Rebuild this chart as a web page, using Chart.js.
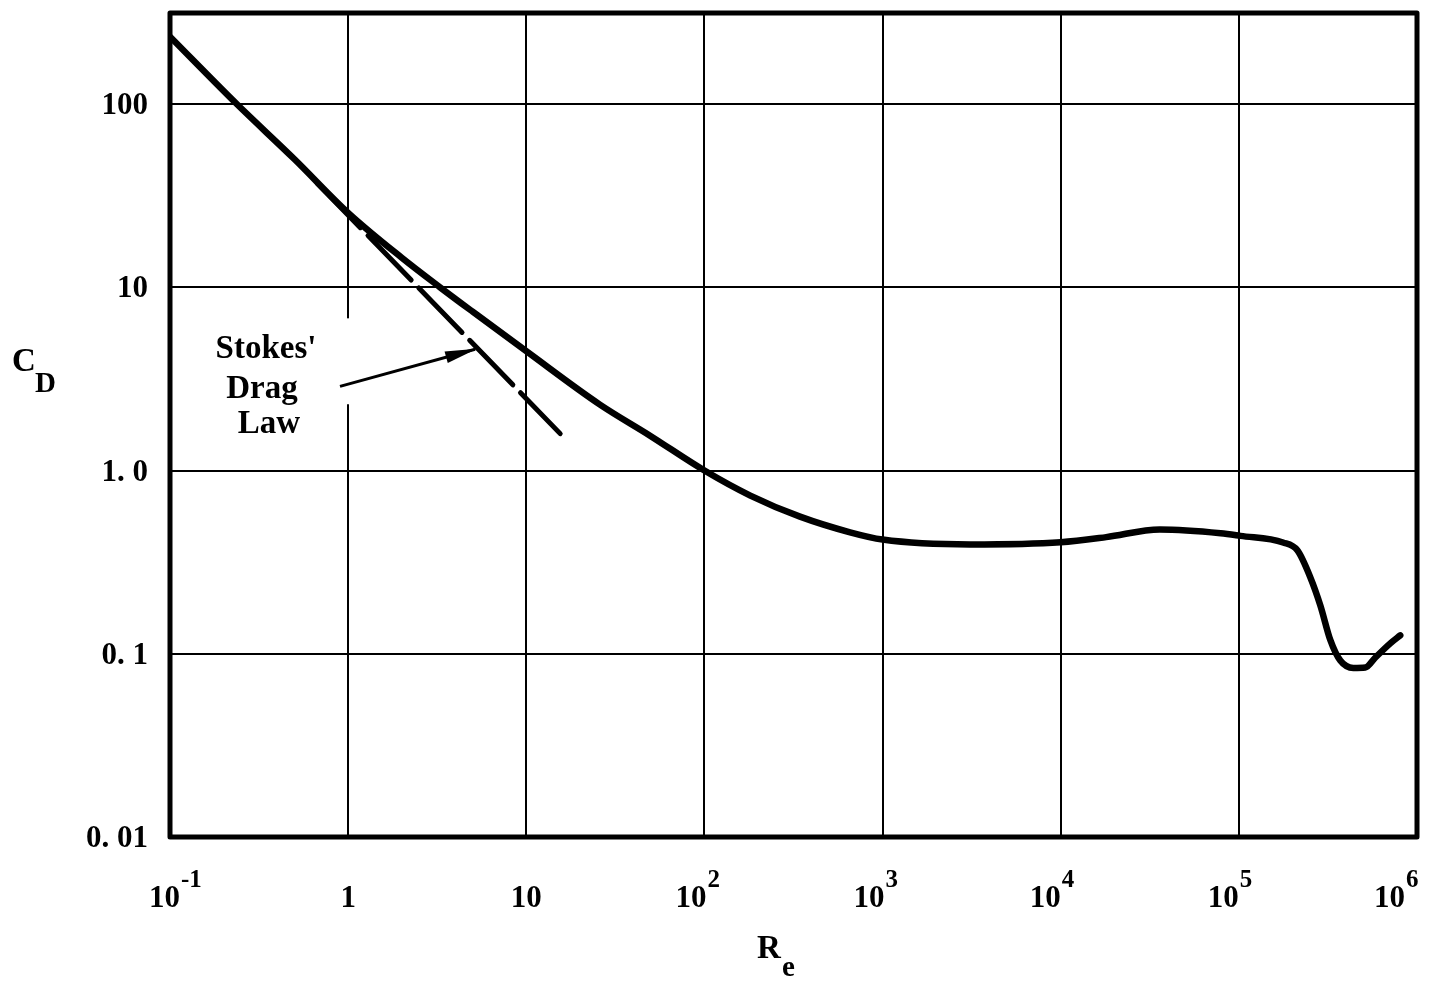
<!DOCTYPE html>
<html>
<head>
<meta charset="utf-8">
<script src="https://cdn.jsdelivr.net/npm/chart.js@4/dist/chart.umd.min.js"></script>
<style>
  html, body { margin: 0; padding: 0; background: #fff; }
  canvas { display: block; }
</style>
</head>
<body>
<canvas id="canvas" width="1432" height="983"></canvas>
<script>
// drag curve (Re, CD)
var reValues = [0.1, 0.237, 0.5, 1, 2, 3.28, 5, 10, 25.9, 49.5, 100, 181, 344, 657, 1000,
    3100, 10000, 18000, 36000, 79000, 102000, 177000, 213000, 252000, 287000, 326000,
    371000, 439000, 513000, 584000, 708000, 805000];
var cdValues = [233, 100, 50, 25.5, 14.5, 10, 7.36, 4.48, 2.29, 1.55, 1.0, 0.73, 0.56, 0.46, 0.42,
    0.395, 0.406, 0.433, 0.477, 0.455, 0.44, 0.405, 0.367, 0.261, 0.183, 0.119,
    0.0918, 0.0836, 0.0841, 0.0954, 0.114, 0.126];

// Stokes' drag law (dashed)
var stokesRe = [0.67, 15.5];
var stokesCd = [37, 1.59];

// arrow from label to dashed line
var arrowRe = [0.9, 5.16];
var arrowCd = [2.88, 4.59];

var xTickValues = [0.1, 1, 10, 100, 1e3, 1e4, 1e5, 1e6];
var xTickBase = ['10', '1', '10', '10', '10', '10', '10', '10'];
var xTickExp = ['-1', '', '', '2', '3', '4', '5', '6'];
var yTickValues = [0.01, 0.1, 1, 10, 100];
var yTickLabels = ['0. 01', '0. 1', '1. 0', '10', '100'];

var FONT = "'Liberation Serif', 'DejaVu Serif', serif";

function pts(xs, ys) {
    return xs.map(function(x, i) { return {x: x, y: ys[i]}; });
}

var paperPlugin = {
    id: 'paper',
    beforeDraw: function(chart) {
        var c = chart.ctx;
        c.save();
        c.fillStyle = '#fff';
        c.fillRect(0, 0, chart.width, chart.height);
        c.restore();
    },
    beforeDatasetsDraw: function(chart) {
        // small break in the Re=1 grid line behind the arrow tail
        var c = chart.ctx, xs = chart.scales.x, ys = chart.scales.y;
        var gx = xs.getPixelForValue(1);
        c.save();
        c.fillStyle = '#fff';
        c.fillRect(gx - 3, ys.getPixelForValue(6.77), 6, ys.getPixelForValue(2.3) - ys.getPixelForValue(6.77));
        c.restore();
    },
    afterDraw: function(chart) {
        var c = chart.ctx, a = chart.chartArea, xs = chart.scales.x, ys = chart.scales.y;
        c.save();

        // heavy frame
        c.strokeStyle = '#000';
        c.lineWidth = 5;
        c.lineJoin = 'round';
        c.strokeRect(a.left, a.top, a.right - a.left, a.bottom - a.top);

        // arrow head
        var x0 = xs.getPixelForValue(arrowRe[0]), y0 = ys.getPixelForValue(arrowCd[0]);
        var x1 = xs.getPixelForValue(arrowRe[1]), y1 = ys.getPixelForValue(arrowCd[1]);
        var ang = Math.atan2(y1 - y0, x1 - x0);
        c.translate(x1, y1);
        c.rotate(ang);
        c.fillStyle = '#000';
        c.beginPath();
        c.moveTo(2, 0);
        c.lineTo(-30, -6);
        c.lineTo(-30, 6);
        c.closePath();
        c.fill();
        c.setTransform(1, 0, 0, 1, 0, 0);

        c.fillStyle = '#000';

        // y tick labels
        c.font = 'bold 31px ' + FONT;
        c.textAlign = 'right';
        c.textBaseline = 'middle';
        yTickValues.forEach(function(v, i) {
            c.fillText(yTickLabels[i], a.left - 22, ys.getPixelForValue(v) + 2);
        });
        c.textBaseline = 'alphabetic';

        // x tick labels with exponents
        var shift = [10, 0, 0, 2, 2, 0, 0, -12];
        xTickValues.forEach(function(v, i) {
            var gx = xs.getPixelForValue(v) + shift[i];
            c.font = 'bold 31px ' + FONT;
            if (xTickExp[i] === '') {
                c.textAlign = 'center';
                c.fillText(xTickBase[i], gx, 907);
            } else {
                c.textAlign = 'right';
                c.fillText(xTickBase[i], gx, 907);
                c.textAlign = 'left';
                c.font = 'bold 25px ' + FONT;
                c.fillText(xTickExp[i], gx + 1, 887);
            }
        });

        // axis titles
        c.textAlign = 'left';
        c.font = 'bold 33px ' + FONT;
        c.fillText('R', 757, 958);
        c.fillText('C', 12, 371);
        c.font = 'bold 29px ' + FONT;
        c.fillText('e', 782, 976);
        c.fillText('D', 35, 392);

        // annotation text
        c.font = 'bold 33px ' + FONT;
        c.textAlign = 'center';
        c.fillText("Stokes'", 266, 358);
        c.fillText('Drag', 262, 398);
        c.fillText('Law', 269, 433);

        c.restore();
    }
};

var ctx = document.getElementById('canvas').getContext('2d');
var config = {
    type: 'line',
    data: {
        datasets: [{
            label: 'CD',
            data: pts(reValues, cdValues),
            borderColor: '#000',
            borderWidth: 6.5,
            pointRadius: 0,
            cubicInterpolationMode: 'monotone',
            borderCapStyle: 'round',
            borderJoinStyle: 'round'
        }, {
            label: "Stokes' Drag Law",
            data: pts(stokesRe, stokesCd),
            borderColor: '#000',
            borderWidth: 5,
            borderDash: [62, 11],
            borderCapStyle: 'round',
            pointRadius: 0
        }, {
            label: 'arrow',
            data: pts(arrowRe, arrowCd),
            borderColor: '#000',
            borderWidth: 3,
            pointRadius: 0
        }]
    },
    options: {
        responsive: false,
        animation: false,
        layout: { padding: { top: 13, right: 15, left: 0, bottom: 0 } },
        plugins: { legend: { display: false }, tooltip: { enabled: false } },
        scales: {
            x: {
                type: 'logarithmic',
                min: 0.1,
                max: 1e6,
                afterBuildTicks: function(s) {
                    s.ticks = xTickValues.map(function(v) { return {value: v}; });
                },
                afterFit: function(s) { s.height = 146; },
                ticks: { display: false },
                grid: { color: '#000', lineWidth: 2, drawTicks: false },
                border: { display: false }
            },
            y: {
                type: 'logarithmic',
                min: 0.01,
                max: 314,
                afterBuildTicks: function(s) {
                    s.ticks = yTickValues.map(function(v) { return {value: v}; });
                },
                afterFit: function(s) { s.width = 170; },
                ticks: { display: false },
                grid: { color: '#000', lineWidth: 2, drawTicks: false },
                border: { display: false }
            }
        }
    },
    plugins: [paperPlugin]
};

var chart = new Chart(ctx, config);
</script>
</body>
</html>
